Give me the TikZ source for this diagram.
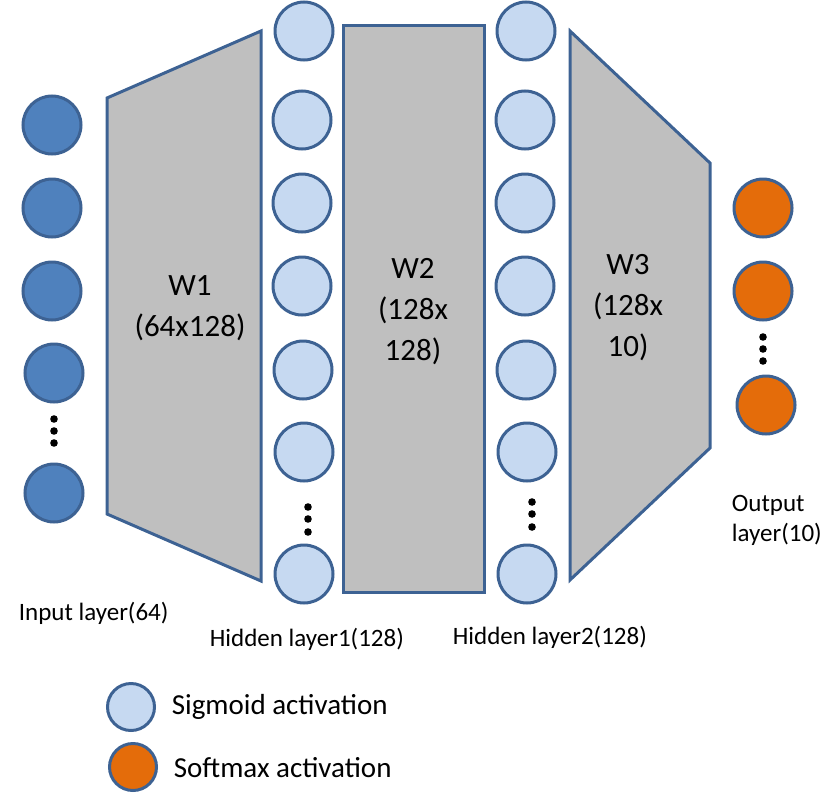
\documentclass[tikz,border=0pt]{standalone}
\usepackage{fontspec}
\setmainfont{Carlito}
\definecolor{edgeblue}{HTML}{3D6293}
\definecolor{inblue}{HTML}{4F81BD}
\definecolor{hidblue}{HTML}{C6D9F1}
\definecolor{outorange}{HTML}{E46C0A}
\definecolor{wgray}{HTML}{BFBFBF}
\begin{document}
\begin{tikzpicture}[x=1pt, y=-1pt, line width=3pt]
\tikzset{
    inunit/.style= {circle, draw=edgeblue, fill=inblue, minimum size=58pt, inner sep=0pt},
    hidunit/.style= {circle, draw=edgeblue, fill=hidblue, minimum size=58pt, inner sep=0pt},
    outunit/.style= {circle, draw=edgeblue, fill=outorange, minimum size=58pt, inner sep=0pt},
    keyunit/.style= {circle, draw=edgeblue, minimum size=47pt, inner sep=0pt},
    wblock/.style= {draw=edgeblue, fill=wgray, line join=miter},
    wlabel/.style= {align=center, font=\fontsize{31}{41}\selectfont},
    llabel/.style= {align=left, font=\fontsize{25}{30}\selectfont},
    klabel/.style= {anchor=west, font=\fontsize{29}{34}\selectfont},
}
\useasboundingbox (0,0) rectangle (840,803);

% weight blocks
\filldraw[wblock] (107,98) -- (261,31) -- (261,581) -- (107,514) -- cycle;
\filldraw[wblock] (343,25) rectangle (484,592);
\filldraw[wblock] (570,31) -- (710,163) -- (710,448) -- (570,580) -- cycle;

\node[wlabel] (w1) at (190,308) {W1\\(64x128)};
\node[wlabel] (w2) at (413,312) {W2\\(128x\\128)};
\node[wlabel] (w3) at (628,308) {W3\\(128x\\10)};

% input layer
\node[inunit] (i1) at (52,125) {};
\node[inunit] (i2) at (52,208) {};
\node[inunit] (i3) at (52,291) {};
\node[inunit] (i4) at (54,373) {};
\node[inunit] (i5) at (54,493) {};

% hidden layer 1
\node[hidunit] (ha1) at (304,31) {};
\node[hidunit] (ha2) at (302,120) {};
\node[hidunit] (ha3) at (302,203) {};
\node[hidunit] (ha4) at (302,286) {};
\node[hidunit] (ha5) at (303,370) {};
\node[hidunit] (ha6) at (304,452) {};
\node[hidunit] (ha7) at (304,574) {};

% hidden layer 2
\node[hidunit] (hb1) at (526,31) {};
\node[hidunit] (hb2) at (525,120) {};
\node[hidunit] (hb3) at (525,203) {};
\node[hidunit] (hb4) at (525,286) {};
\node[hidunit] (hb5) at (526,370) {};
\node[hidunit] (hb6) at (527,452) {};
\node[hidunit] (hb7) at (527,574) {};

% output layer
\node[outunit] (o1) at (763,208) {};
\node[outunit] (o2) at (763,291) {};
\node[outunit] (o3) at (766,405) {};

% dots
\foreach \y in {419,431,443} \fill (54,\y) circle (3.8pt);
\foreach \y in {507,519,532} \fill (308,\y) circle (3.8pt);
\foreach \y in {502,514,527} \fill (532,\y) circle (3.8pt);
\foreach \y in {337,349,361} \fill (763,\y) circle (3.8pt);

% layer labels
\node[llabel, anchor=west] (lin) at (14,613) {Input layer(64)};
\node[llabel, anchor=west] (lh1) at (205,639) {Hidden layer1(128)};
\node[llabel, anchor=west] (lh2) at (448,637) {Hidden layer2(128)};
\node[llabel, anchor=west] (lout) at (727,520) {Output\\layer(10)};

% legend
\node[keyunit, fill=hidblue] (ksig) at (131,707) {};
\node[keyunit, fill=outorange] (ksoft) at (133,767) {};
\node[klabel] (tsig) at (167,707) {Sigmoid activation};
\node[klabel] (tsoft) at (169,768) {Softmax activation};
\end{tikzpicture}
\end{document}
